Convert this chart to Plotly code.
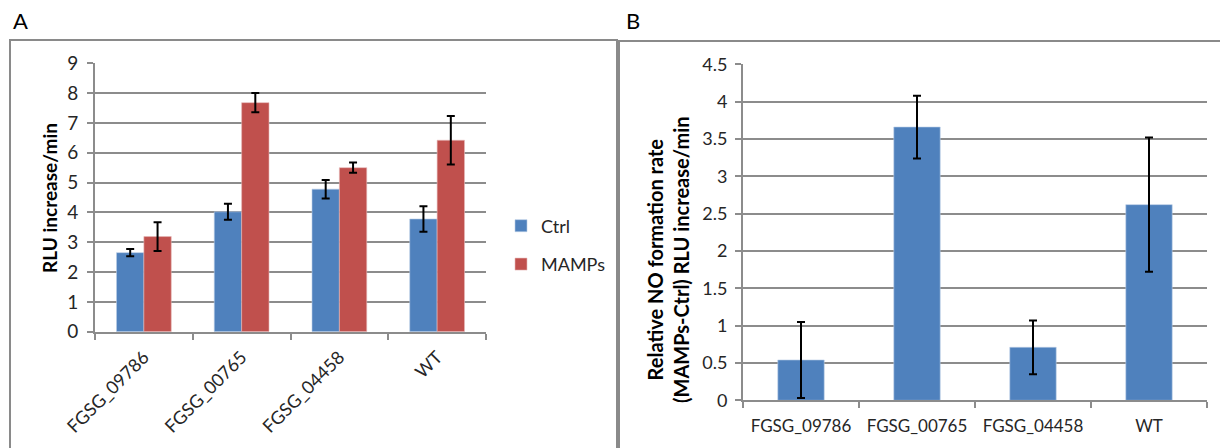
import plotly.graph_objects as go

# ---- data ----
categories = ["FGSG_09786", "FGSG_00765", "FGSG_04458", "WT"]
ctrl_vals = [2.65, 4.02, 4.78, 3.78]
ctrl_err = [0.12, 0.27, 0.31, 0.43]
mamps_vals = [3.19, 7.68, 5.50, 6.42]
mamps_err = [0.48, 0.32, 0.17, 0.81]
diff_vals = [0.54, 3.66, 0.71, 2.62]
diff_err = [0.51, 0.42, 0.36, 0.90]

# page body has an 8px margin; figure is sized/shifted to compensate
OFF = 8
W, H = 1220, 440
BLUE = "#4F81BD"
RED = "#C0504D"
GRID = "#8C8C8C"
FONT = "Lato, Open Sans, sans-serif"
TXT = "#262626"


def px(x):
    return (x - OFF) / W


def py(y):
    return 1 - (y - OFF) / H


fig = go.Figure()
fig.add_trace(go.Bar(
    x=categories, y=ctrl_vals, name="Ctrl", legendgroup="c",
    marker=dict(color=BLUE, line=dict(color="#B9CDE5", width=0.6)),
    error_y=dict(type="data", array=ctrl_err, color="black", thickness=2, width=4),
    xaxis="x", yaxis="y"))
fig.add_trace(go.Bar(
    x=categories, y=mamps_vals, name="MAMPs", legendgroup="m",
    marker=dict(color=RED, line=dict(color="#E6B9B8", width=0.6)),
    error_y=dict(type="data", array=mamps_err, color="black", thickness=2, width=4),
    xaxis="x", yaxis="y"))
fig.add_trace(go.Bar(
    x=categories, y=diff_vals, name="diff", showlegend=False,
    marker=dict(color=BLUE, line=dict(color="#B9CDE5", width=0.6)),
    error_y=dict(type="data", array=diff_err, color="black", thickness=2, width=4),
    xaxis="x2", yaxis="y2", width=0.4))

axis_common = dict(showline=True, linecolor=GRID, linewidth=2, automargin=False)

fig.update_layout(
    width=W, height=H,
    margin=dict(l=0, r=0, t=0, b=0, pad=0, autoexpand=False),
    paper_bgcolor="white", plot_bgcolor="white",
    barmode="group", bargap=0.44, bargroupgap=0,
    font=dict(family=FONT, color=TXT),
    xaxis=dict(domain=[px(95), px(486)], anchor="y", type="category",
               ticks="outside", tickson="boundaries", ticklen=6, tickcolor=GRID,
               tickwidth=2, tickangle=-45, showgrid=False, ticklabelstandoff=6,
               tickfont=dict(family=FONT, size=18, color=TXT), **axis_common),
    yaxis=dict(domain=[py(331.7), py(63.3)], anchor="x", range=[0, 9], dtick=1,
               ticks="outside", ticklen=6, tickcolor=GRID, tickwidth=2,
               showgrid=True, gridcolor=GRID, gridwidth=2, zeroline=False,
               ticklabelstandoff=5,
               tickfont=dict(family=FONT, size=19, color=TXT), **axis_common),
    xaxis2=dict(domain=[px(743), px(1207)], anchor="y2", type="category",
                ticks="outside", tickson="boundaries", ticklen=6, tickcolor=GRID,
                tickwidth=2, tickangle=0, showgrid=False, ticklabelstandoff=9,
                tickfont=dict(family=FONT, size=17, color=TXT), **axis_common),
    yaxis2=dict(domain=[py(400.3), py(64.3)], anchor="x2", range=[0, 4.5], dtick=0.5,
                ticks="outside", ticklen=6, tickcolor=GRID, tickwidth=2,
                showgrid=True, gridcolor=GRID, gridwidth=2, zeroline=False,
                ticklabelstandoff=4,
                tickfont=dict(family=FONT, size=18, color=TXT), **axis_common),
    legend=dict(x=px(501), y=py(245), xanchor="left", yanchor="middle",
                font=dict(family=FONT, size=18, color=TXT),
                traceorder="grouped", tracegroupgap=12,
                bgcolor="rgba(0,0,0,0)", itemwidth=30),
    showlegend=True,
)

# panel frames
fig.add_shape(type="rect", xref="paper", yref="paper",
              x0=px(10), x1=px(617), y0=py(460), y1=py(40),
              line=dict(color="#8A8A8A", width=2), fillcolor="rgba(0,0,0,0)", layer="below")
fig.add_shape(type="rect", xref="paper", yref="paper",
              x0=px(619), x1=px(1240), y0=py(460), y1=py(41),
              line=dict(color="#8A8A8A", width=2), fillcolor="rgba(0,0,0,0)", layer="below")

# panel letters and axis titles
fig.add_annotation(text="A", xref="paper", yref="paper", x=px(11), y=py(21),
                   xanchor="left", yanchor="middle", showarrow=False,
                   font=dict(family=FONT, size=22, color="black"))
fig.add_annotation(text="B", xref="paper", yref="paper", x=px(624), y=py(21),
                   xanchor="left", yanchor="middle", showarrow=False,
                   font=dict(family=FONT, size=22, color="black"))
fig.add_annotation(text="<b>RLU increase/min</b>", xref="paper", yref="paper",
                   x=px(49), y=py(198), textangle=-90, showarrow=False,
                   xanchor="center", yanchor="middle",
                   font=dict(family=FONT, size=19, color="black"))
fig.add_annotation(text="<b>Relative NO formation rate<br>(MAMPs-Ctrl) RLU increase/min</b>",
                   xref="paper", yref="paper",
                   x=px(668), y=py(260), textangle=-90, showarrow=False,
                   xanchor="center", yanchor="middle",
                   font=dict(family=FONT, size=20, color="black"))

fig.write_html("out.html")
